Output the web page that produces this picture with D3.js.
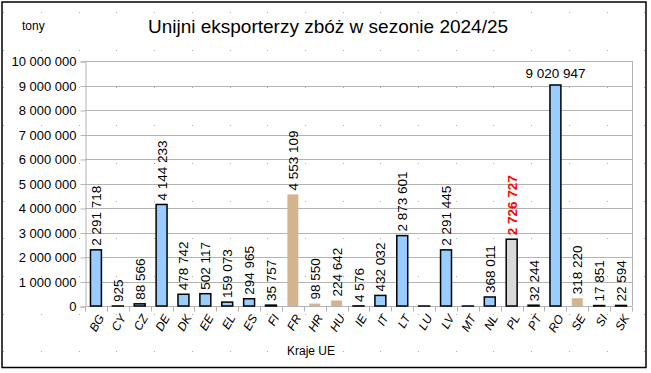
<!DOCTYPE html>
<html><head><meta charset="utf-8">
<script src="https://cdn.jsdelivr.net/npm/d3@7"></script>
<style>body{margin:0;background:#fff}svg{display:block;font-family:"Liberation Sans",Arial,sans-serif}</style>
</head><body>
<script>
const countries = ["BG","CY","CZ","DE","DK","EE","EL","ES","FI","FR","HR","HU","IE","IT","LT","LU","LV","MT","NL","PL","PT","RO","SE","SI","SK"];
const values = [2291718,925,88566,4144233,478742,502117,159073,294965,35757,4553109,98550,224642,4576,432032,2873601,0,2291445,0,368011,2726727,32244,9020947,318220,17851,22594];
const labels = ["2 291 718","925","88 566","4 144 233","478 742","502 117","159 073","294 965","35 757","4 553 109","98 550","224 642","4 576","432 032","2 873 601","","2 291 445","","368 011","2 726 727","32 244","9 020 947","318 220","17 851","22 594"];
const groups = ["b","b","b","b","b","b","b","b","b","t","t","t","b","b","b","b","b","b","b","p","b","b","t","b","b"];
const yTicks = [0,1000000,2000000,3000000,4000000,5000000,6000000,7000000,8000000,9000000,10000000];
const yTickLabels = ["0","1 000 000","2 000 000","3 000 000","4 000 000","5 000 000","6 000 000","7 000 000","8 000 000","9 000 000","10 000 000"];

const W=651,H=373;
const svg=d3.select("body").append("svg").attr("width",W).attr("height",H);
// background dots
const dots=svg.append("g");
for(let x=3.3;x<W;x+=37.7){for(let y=12;y<H;y+=37.7){dots.append("rect").attr("x",Math.round(x)).attr("y",Math.round(y)).attr("width",1).attr("height",1).attr("fill","#aaa");}}
svg.append("rect").attr("x",2).attr("y",2).attr("width",644).attr("height",365.5).attr("fill","none").attr("stroke","#000").attr("stroke-width",1.5);

const L=85,R=632,T=61,B=306;
const x=d3.scaleBand().domain(countries).range([L,R]).paddingInner(0.5).paddingOuter(0.25);
const xb=d3.scaleBand().domain(countries).range([L,R]);
const y=d3.scaleLinear().domain([0,10000000]).range([B,T]);

// grid
svg.append("g").selectAll("line").data(yTicks).join("line")
 .attr("x1",L).attr("x2",R).attr("y1",d=>Math.round(y(d))+0.5).attr("y2",d=>Math.round(y(d))+0.5)
 .attr("stroke","#b3b3b3").attr("stroke-width",1);
svg.append("line").attr("x1",R+0.5).attr("x2",R+0.5).attr("y1",T).attr("y2",B).attr("stroke","#b3b3b3");

// y axis
const yAxis=d3.axisLeft(y).tickValues(yTicks).tickFormat((d,i)=>yTickLabels[i]).tickSize(5).tickPadding(4);
const ga=svg.append("g").attr("transform",`translate(${L+0.5},0.5)`).call(yAxis);
ga.select(".domain").attr("stroke","#b3b3b3");
ga.selectAll(".tick line").attr("stroke","#b3b3b3");
ga.selectAll("text").attr("font-size",13).attr("fill","#000").attr("font-family","Liberation Sans, Arial, sans-serif");

// x axis
const gx=svg.append("g").attr("transform",`translate(0,${B+0.5})`);
gx.append("line").attr("x1",L).attr("x2",R).attr("stroke","#b3b3b3");
gx.selectAll(".tk").data(countries.concat(["__end"])).join("line")
 .attr("x1",(d,i)=>Math.round(L+i*xb.step())+0.5).attr("x2",(d,i)=>Math.round(L+i*xb.step())+0.5)
 .attr("y1",0).attr("y2",5).attr("stroke","#b3b3b3");
gx.selectAll("text").data(countries).join("text")
 .attr("transform",d=>`translate(${xb(d)+xb.bandwidth()/2+5},${9}) rotate(-60)`)
 .attr("text-anchor","end").attr("dy","0.35em").attr("font-size",12).attr("font-style","italic").text(d=>d);

// bars
const fills={b:"#99ccff",t:"#d4b48d",p:"#d9d9d9"};
svg.append("g").selectAll("rect").data(values).join("rect")
 .attr("x",(d,i)=>x(countries[i])).attr("width",x.bandwidth())
 .attr("y",d=>y(d)).attr("height",d=>Math.max(B-y(d),0.01))
 .attr("fill",(d,i)=>fills[groups[i]])
 .attr("stroke",(d,i)=>groups[i]==="t"?"none":"#000").attr("stroke-width",1.5);

// value labels
svg.append("g").selectAll("text").data(values).join("text")
 .attr("transform",(d,i)=>{const cx=x(countries[i])+x.bandwidth()/2; return countries[i]==="RO"?`translate(${cx},${y(d)-7})`:`translate(${cx+5},${y(d)-4}) rotate(-90)`;})
 .attr("text-anchor",(d,i)=>countries[i]==="RO"?"middle":"start")
 .attr("font-size",13.5)
 .attr("font-weight",(d,i)=>countries[i]==="PL"?"bold":"normal")
 .attr("fill",(d,i)=>countries[i]==="PL"?"#ff0000":"#000")
 .text((d,i)=>labels[i]);

svg.append("text").attr("x",328).attr("y",33).attr("text-anchor","middle").attr("font-size",19).text("Unijni eksporterzy zbóż w sezonie 2024/25");
svg.append("text").attr("x",22).attr("y",30).attr("font-size",12).text("tony");
svg.append("text").attr("x",311).attr("y",355).attr("text-anchor","middle").attr("font-size",12).text("Kraje UE");
</script>
</body></html>
